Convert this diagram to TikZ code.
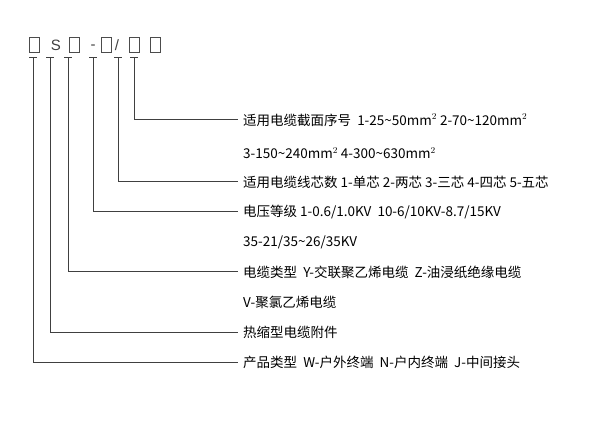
\documentclass[tikz,border=0pt]{standalone}
\usepackage{fontspec}
\setmainfont{Liberation Sans}
\newfontfamily\cjk{Noto Sans CJK SC}
\begin{document}
\begin{tikzpicture}[x=1pt,y=-1pt,
  ph/.style={draw=black!70,line width=0.8pt,minimum width=10pt,minimum height=15pt,inner sep=0pt},
  sym/.style={font=\fontsize{15}{15}\selectfont,text=black!75,inner sep=0pt},
  lbl/.style={anchor=west,font=\cjk\fontsize{13.5}{14}\selectfont,text=black,inner sep=0pt},
  ln/.style={draw=black!75,line width=1pt}]
\useasboundingbox (0,0) rectangle (600,422);
\node[ph] (b1) at (34,45) {};
\node[sym] (s) at (56,45) {S};
\node[ph] (b2) at (74,45) {};
\node[sym,anchor=base] (d) at (93,50) {-};
\node[ph] (b3) at (106,45) {};
\node[sym] (sl) at (117,45) {/};
\node[ph] (b4) at (134,45) {};
\node[ph] (b5) at (155,45) {};
\foreach \n/\x/\y in {a/134/120,b/118/182,c/93/212,d/68/272,e/50/332,f/33/362}{
  \coordinate (t\n) at (\x,58);
  \coordinate (c\n) at (\x,\y);
  \coordinate (e\n) at (238,\y);
  \draw[ln] (\x-4,58) -- (\x+4,58);
  \draw[ln] (t\n) -- (c\n) -- (e\n);
}
\node[lbl] (l1) at (243,120) {适用电缆截面序号\ \ 1-25\textasciitilde 50mm$^2$ 2-70\textasciitilde 120mm$^2$};
\node[lbl] (l2) at (243,153) {3-150\textasciitilde 240mm$^2$ 4-300\textasciitilde 630mm$^2$};
\node[lbl] (l3) at (243,182) {适用电缆线芯数 1-单芯 2-两芯 3-三芯 4-四芯 5-五芯};
\node[lbl] (l4) at (243,212) {电压等级 1-0.6/1.0KV\ \ 10-6/10KV-8.7/15KV};
\node[lbl] (l5) at (243,242) {35-21/35\textasciitilde 26/35KV};
\node[lbl] (l6) at (243,272) {电缆类型\ \ Y-交联聚乙烯电缆\ \ Z-油浸纸绝缘电缆};
\node[lbl] (l7) at (243,302) {V-聚氯乙烯电缆};
\node[lbl] (l8) at (243,332) {热缩型电缆附件};
\node[lbl] (l9) at (243,362) {产品类型\ \ W-户外终端\ \ N-户内终端\ \ J-中间接头};
\end{tikzpicture}
\end{document}
